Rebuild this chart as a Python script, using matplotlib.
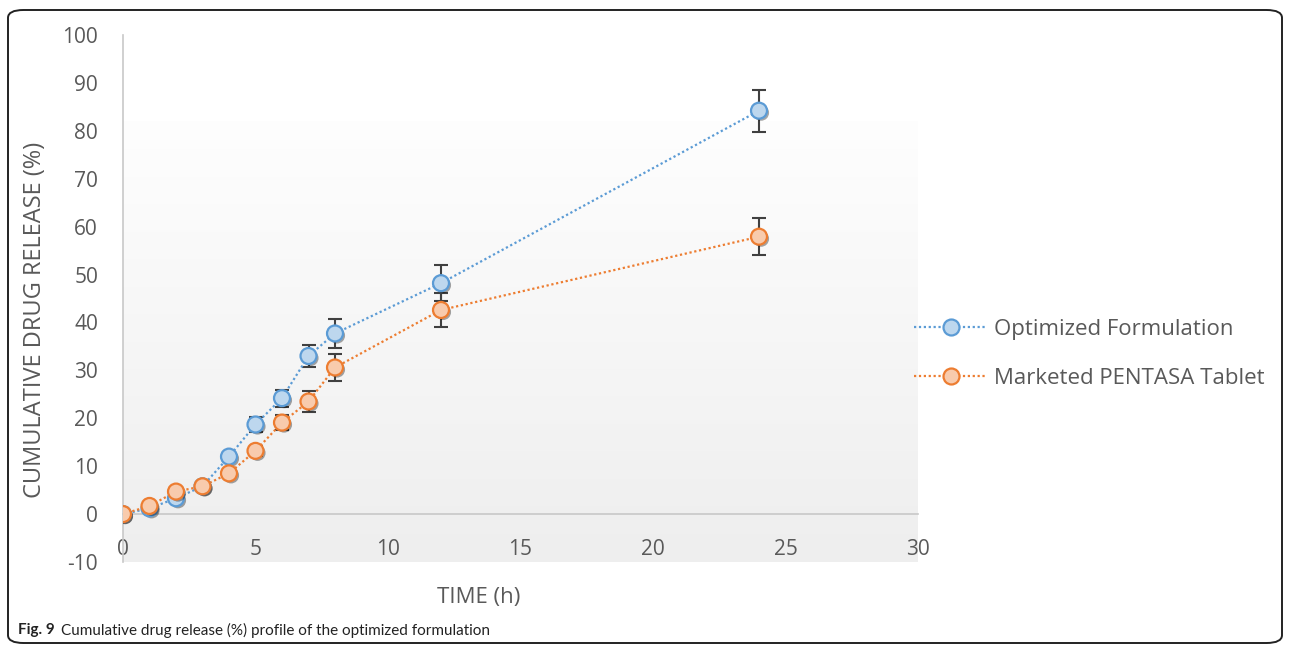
import numpy as np
import matplotlib
matplotlib.use("Agg")
import matplotlib.pyplot as plt
from matplotlib import patheffects as pe
from matplotlib.patches import FancyBboxPatch
from matplotlib.lines import Line2D

plt.rcParams['font.family'] = ['Open Sans', 'DejaVu Sans']
plt.rcParams['axes.unicode_minus'] = False

# Release profile data
time_h = [0, 1, 2, 3, 4, 5, 6, 7, 8, 12, 24]
optimized = [0.0, 1.2, 3.3, 5.8, 12.0, 18.7, 24.2, 33.0, 37.7, 48.2, 84.2]
optimized_err = [0.3, 0.4, 0.6, 0.6, 1.0, 1.6, 1.8, 2.3, 3.1, 3.7, 4.4]
marketed = [0.0, 1.7, 4.7, 5.8, 8.5, 13.2, 19.1, 23.5, 30.6, 42.6, 57.9]
marketed_err = [0.3, 0.4, 0.5, 0.6, 0.8, 1.0, 1.5, 2.2, 2.9, 3.5, 3.9]

x_ticks = [0, 5, 10, 15, 20, 25, 30]
y_ticks = [-10, 0, 10, 20, 30, 40, 50, 60, 70, 80, 90, 100]

W, H = 1292, 653
fig = plt.figure(figsize=(W / 100, H / 100), dpi=100)

# rounded frame around figure + caption
frame = FancyBboxPatch((8 / W, 10 / H), (1282 - 8) / W, (643 - 10) / H,
                       boxstyle="round,pad=0,rounding_size=0.012",
                       transform=fig.transFigure, fill=False,
                       edgecolor='#222222', linewidth=1.4)
fig.patches.append(frame)

ax = fig.add_axes([123 / W, (H - 562) / H, (918 - 123) / W, (562 - 35) / H])
ax.set_xlim(0, 30)
ax.set_ylim(-10, 100)

# soft shaded plot area
grad = np.linspace(0, 1, 256).reshape(-1, 1)
cmap = matplotlib.colors.LinearSegmentedColormap.from_list('shade', ['#eeeeee', '#fefefe'])
ax.imshow(grad, extent=[0, 30, -10, 82], origin='lower', cmap=cmap,
          aspect='auto', zorder=0, interpolation='bicubic')

for side in ['top', 'right']:
    ax.spines[side].set_visible(False)
ax.spines['left'].set_color('#c8c8c8')
ax.spines['left'].set_linewidth(1.2)
ax.spines['bottom'].set_position(('data', 0))
ax.spines['bottom'].set_color('#c8c8c8')
ax.spines['bottom'].set_linewidth(1.2)

ax.set_xticks(x_ticks)
ax.set_yticks(y_ticks)
ax.tick_params(axis='both', length=0, labelsize=15, labelcolor='#595959')
ax.tick_params(axis='x', pad=18)
ax.tick_params(axis='y', pad=18)

shadow = [pe.SimplePatchShadow(offset=(1.5, -1.5), shadow_rgbFace='#000000', alpha=0.35), pe.Normal()]

series = [
    (optimized, optimized_err, '#5b9bd5', '#bdd7ee', 'Optimized Formulation'),
    (marketed, marketed_err, '#ed7d31', '#f8cbad', 'Marketed PENTASA Tablet'),
]
handles = []
for vals, errs, edge, face, label in series:
    ax.errorbar(time_h, vals, yerr=errs, fmt='none', ecolor='#404040',
                elinewidth=1.5, capsize=5, capthick=1.5, zorder=3)
    ax.plot(time_h, vals, linestyle=(0, (1, 1.2)), color=edge, linewidth=1.6, zorder=3.5)
    mk, = ax.plot(time_h, vals, linestyle='none', marker='o', markersize=11.5,
                  markerfacecolor=face, markeredgecolor=edge,
                  markeredgewidth=1.6, zorder=4)
    mk.set_path_effects(shadow)
    handles.append(Line2D([], [], linestyle=(0, (1, 1.2)), color=edge, linewidth=1.6,
                          marker='o', markersize=11.5, markerfacecolor=face,
                          markeredgecolor=edge, markeredgewidth=1.6, label=label))

leg = fig.legend(handles=handles, loc='center left',
                 bbox_to_anchor=(914 / W, (H - 354) / H), frameon=False,
                 fontsize=16, labelcolor='#595959', handlelength=3.3,
                 handletextpad=0.3, labelspacing=1.25, borderaxespad=0.0,
                 borderpad=0.0)

fig.text(35 / W, (H - 320) / H, 'CUMULATIVE DRUG RELEASE (%)', rotation=90,
         ha='center', va='center', fontsize=17, color='#595959')
fig.text(479 / W, (H - 598) / H, 'TIME (h)', ha='center', va='center',
         fontsize=16, color='#595959')

cap_font = ['Lato', 'DejaVu Sans']
fig.text(18 / W, (H - 630) / H, 'Fig. 9', fontweight='bold', ha='left',
         va='center', fontsize=11, color='#222222', family=cap_font)
fig.text(61 / W, (H - 630) / H, 'Cumulative drug release (%) profile of the optimized formulation',
         ha='left', va='center', fontsize=11, color='#222222', family=cap_font)

fig.savefig('out.png', dpi=100)
